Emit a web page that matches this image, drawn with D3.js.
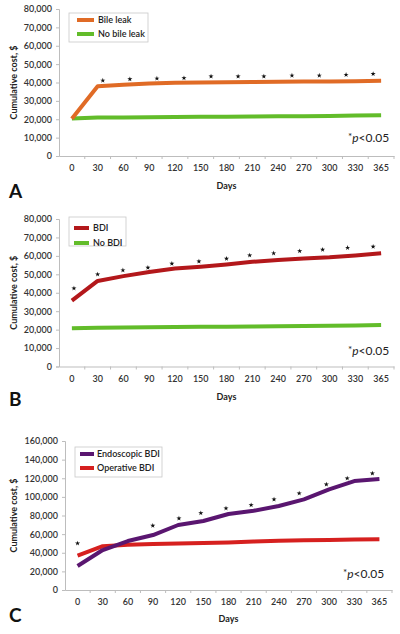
<!DOCTYPE html>
<html>
<head>
<meta charset="utf-8">
<script src="https://cdn.jsdelivr.net/npm/d3@7"></script>
<style>
  html, body { margin: 0; padding: 0; background: #fff; }
  svg { display: block; }
  text { font-family: Lato, "Open Sans", sans-serif; }
</style>
</head>
<body>
<svg id="chart" width="400" height="634"></svg>
<script>
// ---------- data ----------
const days = ["0","30","60","90","120","150","180","210","240","270","300","330","365"];

// Panel A
const bileLeak   = [20300, 38000, 38800, 39500, 39800, 40000, 40200, 40300, 40400, 40500, 40500, 40700, 40900];
const noBileLeak = [20400, 20900, 21000, 21100, 21200, 21300, 21400, 21500, 21600, 21700, 21800, 22000, 22200];
const starsA_pos = [1.2, 2.25, 3.3, 4.35, 5.4, 6.45, 7.45, 8.54, 9.6, 10.64, 11.69];
const starsA_val = [41100, 41800, 42200, 42400, 43300, 43300, 43300, 43800, 43800, 44200, 44700];
const ticksAB = [0, 10000, 20000, 30000, 40000, 50000, 60000, 70000, 80000];

// Panel B
const bdi   = [35700, 46400, 49000, 51300, 53100, 54100, 55300, 56800, 57700, 58600, 59200, 60200, 61400];
const noBdi = [20700, 21000, 21200, 21300, 21400, 21500, 21600, 21700, 21800, 22000, 22100, 22300, 22500];
const starsB_pos = [0.08, 1.0, 1.98, 2.95, 3.88, 4.93, 6.0, 6.9, 7.83, 8.84, 9.73, 10.7, 11.69];
const starsB_val = [42400, 50000, 52200, 53600, 55800, 57000, 58500, 60300, 61400, 62600, 63400, 64400, 65000];

// Panel C
const endoscopic = [25800, 42900, 52600, 59000, 69800, 74100, 81600, 85100, 90200, 97300, 108000, 117000, 119100];
const operative  = [37000, 47000, 48500, 49500, 50000, 50500, 51000, 52000, 52800, 53300, 53700, 54200, 54500];
const starsC_pos = [0, 2.99, 4.03, 4.9, 5.9, 6.9, 7.81, 8.81, 9.89, 10.72, 11.72];
const starsC_val = [50100, 69100, 76900, 82600, 87700, 91200, 97300, 103800, 113400, 119900, 125200];
const ticksC = [0, 20000, 40000, 60000, 80000, 100000, 120000, 140000, 160000];

const panels = [
  { letter: "A", left: 59, right: 394, top: 9, bottom: 156, yMax: 80000, ticks: ticksAB,
    series: [{ name: "Bile leak", values: bileLeak, color: "#E06B26" },
             { name: "No bile leak", values: noBileLeak, color: "#62BC2A" }],
    starsPos: starsA_pos, starsVal: starsA_val,
    legend: { x: 69, y: 13, w: 79, h: 29, row0: 20, rowGap: 14, sx0: 77, sx1: 94, tx: 98 },
    pY: 142, pX: 348, daysY: 189, letterY: 198, yLabelX: 14 },
  { letter: "B", left: 59, right: 394, top: 219, bottom: 366.5, yMax: 80000, ticks: ticksAB,
    series: [{ name: "BDI", values: bdi, color: "#B3181B" },
             { name: "No BDI", values: noBdi, color: "#62BC2A" }],
    starsPos: starsB_pos, starsVal: starsB_val,
    legend: { x: 69, y: 217, w: 57, h: 29, row0: 228, rowGap: 15, sx0: 74, sx1: 89, tx: 93 },
    pY: 355, pX: 348, daysY: 400, letterY: 406, yLabelX: 14 },
  { letter: "C", left: 65, right: 392, top: 441, bottom: 590, yMax: 160000, ticks: ticksC,
    series: [{ name: "Endoscopic BDI", values: endoscopic, color: "#5A1670" },
             { name: "Operative BDI", values: operative, color: "#D6201F" }],
    starsPos: starsC_pos, starsVal: starsC_val,
    legend: { x: 75, y: 447, w: 87, h: 30, row0: 454, rowGap: 14, sx0: 80, sx1: 94, tx: 97 },
    pY: 578, pX: 343, daysY: 622, letterY: 622, yLabelX: 14 }
];

const svg = d3.select("#chart");
const fmt = d3.format(",");

panels.forEach(p => {
  const g = svg.append("g");
  const x = d3.scaleBand().domain(days).range([p.left, p.right]).padding(0);
  const bw = x.bandwidth();
  const xc = d => x(d) + bw / 2;
  const xi = d3.scaleLinear().domain([0, days.length - 1]).range([xc(days[0]), xc(days[days.length - 1])]);
  const y = d3.scaleLinear().domain([0, p.yMax]).range([p.bottom, p.top]);

  // Y axis
  const yAxis = d3.axisLeft(y).tickValues(p.ticks).tickFormat(fmt).tickSize(3).tickPadding(4);
  const ya = g.append("g").attr("transform", `translate(${p.left},0)`).call(yAxis);
  ya.select(".domain").attr("stroke", "#bdbdbd");
  ya.selectAll(".tick line").attr("stroke", "#bdbdbd");
  ya.selectAll(".tick text").attr("fill", "#333").attr("font-size", 9).attr("font-weight", 600)
    .attr("font-family", "Lato, sans-serif");

  // X axis
  const xAxis = d3.axisBottom(x).tickSize(0).tickPadding(9);
  const xa = g.append("g").attr("transform", `translate(0,${p.bottom})`).call(xAxis);
  xa.select(".domain").attr("stroke", "#bdbdbd");
  xa.selectAll(".tick text").attr("fill", "#333").attr("font-size", 9).attr("font-weight", 600)
    .attr("font-family", "Lato, sans-serif");
  // band boundary tick marks
  xa.selectAll(".bt").data(days.slice(1)).enter().append("line")
    .attr("x1", d => x(d)).attr("x2", d => x(d)).attr("y1", 0).attr("y2", 3)
    .attr("stroke", "#bdbdbd");
  xa.append("line").attr("x1", p.right).attr("x2", p.right).attr("y1", 0).attr("y2", 3).attr("stroke", "#bdbdbd");

  // lines
  const line = d3.line().x((d, i) => xc(days[i])).y(d => y(d));
  p.series.slice().reverse().forEach(s => {
    g.append("path").datum(s.values).attr("d", line)
      .attr("fill", "none").attr("stroke", s.color).attr("stroke-width", 4)
      .attr("stroke-linejoin", "round").attr("stroke-linecap", "butt");
  });

  // asterisks
  const star = d3.symbol().type(d3.symbolStar).size(8);
  g.selectAll(".star").data(p.starsPos).enter().append("path")
    .attr("d", star)
    .attr("transform", (d, i) => `translate(${xi(d)},${y(p.starsVal[i])})`)
    .attr("fill", "#111");

  // legend
  const L = p.legend;
  g.append("rect").attr("x", L.x).attr("y", L.y).attr("width", L.w).attr("height", L.h)
    .attr("fill", "#fff").attr("stroke", "#c8c8c8").attr("stroke-width", 0.8);
  p.series.forEach((s, i) => {
    const ry = L.row0 + i * L.rowGap;
    g.append("line").attr("x1", L.sx0).attr("x2", L.sx1).attr("y1", ry).attr("y2", ry)
      .attr("stroke", s.color).attr("stroke-width", 4);
    g.append("text").attr("x", L.tx).attr("y", ry).attr("dy", "0.35em")
      .attr("font-size", 9).attr("font-weight", 600).attr("fill", "#222").text(s.name);
  });

  // p-value note
  const pt = g.append("text").attr("x", p.pX).attr("y", p.pY).attr("font-size", 12).attr("fill", "#222")
    .attr("font-family", "Lato, sans-serif");
  pt.append("tspan").text("*").attr("font-size", 10).attr("dy", -2);
  pt.append("tspan").text("p").attr("font-style", "italic").attr("dy", 2);
  pt.append("tspan").text("<0.05");

  // axis titles
  g.append("text").attr("x", (p.left + p.right) / 2).attr("y", p.daysY).attr("text-anchor", "middle")
    .attr("font-size", 9).attr("font-weight", 700).attr("fill", "#222").text("Days");
  g.append("text")
    .attr("transform", `translate(${p.yLabelX},${(p.top + p.bottom) / 2}) rotate(-90)`)
    .attr("text-anchor", "middle").attr("dy", "0.35em")
    .attr("font-size", 9).attr("font-weight", 700).attr("fill", "#222").text("Cumulative cost, $");

  // panel letter
  g.append("text").attr("x", 9).attr("y", p.letterY).attr("font-size", 19).attr("font-weight", 700)
    .attr("font-family", "'Liberation Sans', Arial, sans-serif").attr("fill", "#111").text(p.letter);
});
</script>
</body>
</html>
